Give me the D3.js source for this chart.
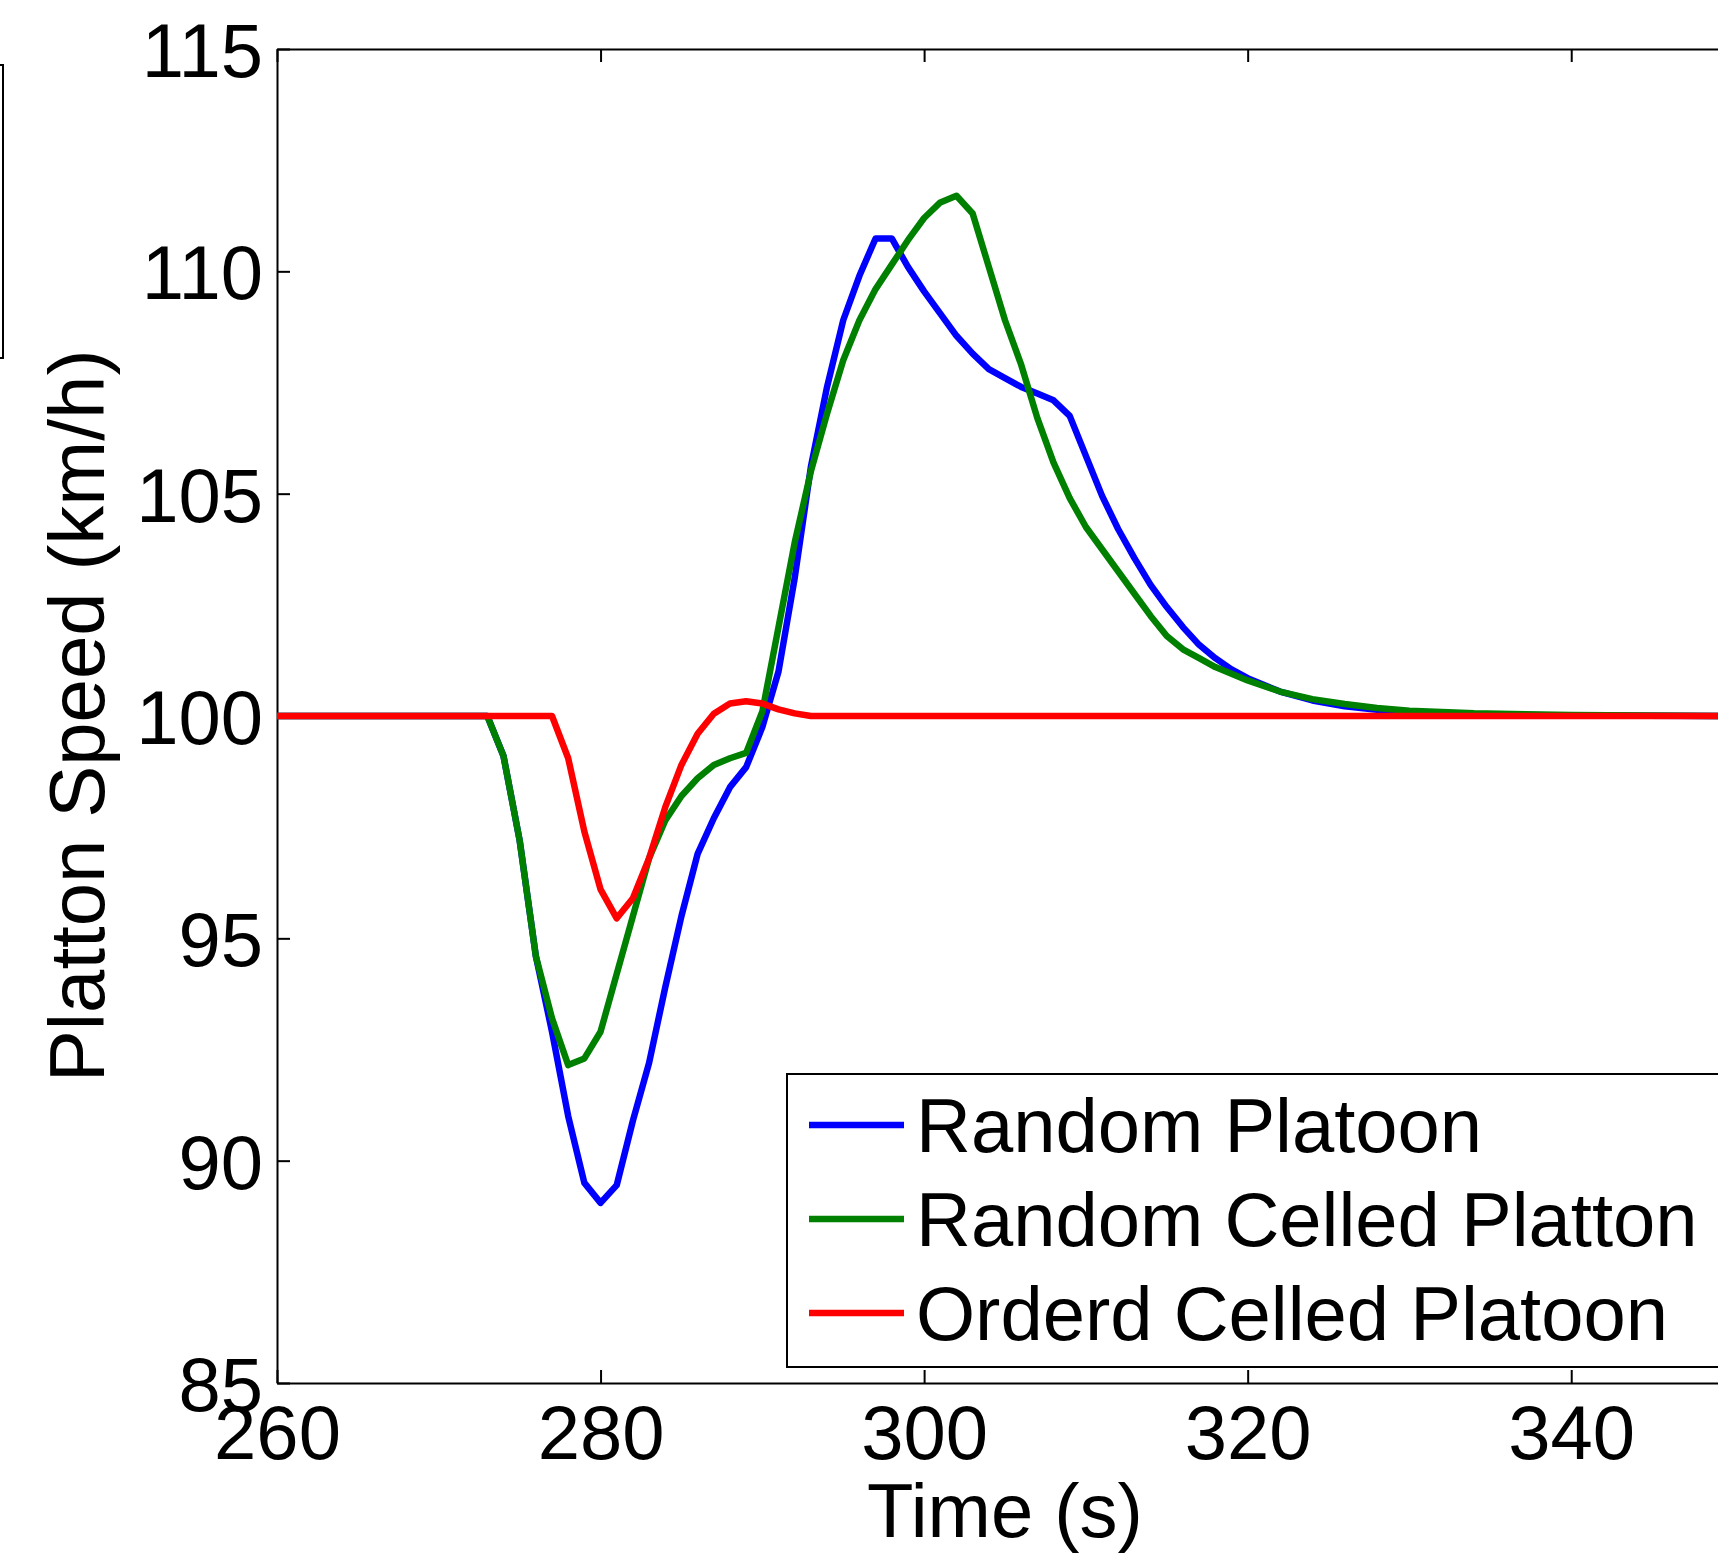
<!DOCTYPE html>
<html>
<head>
<meta charset="utf-8">
<script src="https://cdn.jsdelivr.net/npm/d3@7"></script>
<style>
  body { margin: 0; background: #ffffff; }
  text { font-family: "Liberation Sans", Arial, sans-serif; fill: #000; }
</style>
</head>
<body>
<div id="space"></div>
<script>
// Declare constants
const WIDTH = 1718;
const HEIGHT = 1555;
const FONT_SIZE = 76;
const LINE_WIDTH = 6.5;

// Plot box (the right edge runs past the picture, as in the reference)
const LEFT = 277;
const RIGHT = 1733;
const TOP = 49;
const BOTTOM = 1383;

const X_TICKS = [260, 280, 300, 320, 340];
const Y_TICKS = [85, 90, 95, 100, 105, 110, 115];

const SERIES_NAMES = ["Random Platoon", "Random Celled Platton", "Orderd Celled Platoon"];
const SERIES_COLORS = ["#0000ff", "#008000", "#ff0000"];

// Random Platoon (blue)
const randomTime = [260, 273, 274, 275, 276, 277, 278, 279, 280, 281, 282, 283, 284, 285,
  286, 287, 288, 289, 290, 291, 292, 293, 294, 295, 296, 297, 298, 299, 300, 301, 302,
  303, 304, 305, 306, 307, 308, 309, 310, 311, 312, 313, 314, 315, 316, 317, 318, 319,
  320, 322, 324, 326, 328, 330, 334, 340, 350];
const randomSpeed = [100, 100, 99.1, 97.2, 94.6, 92.9, 91.0, 89.5, 89.05, 89.45, 90.9, 92.2,
  93.9, 95.5, 96.9, 97.7, 98.4, 98.85, 99.75, 101.0, 103.1, 105.6, 107.4, 108.9, 109.9,
  110.74, 110.74, 110.1, 109.55, 109.05, 108.55, 108.15, 107.8, 107.6, 107.4, 107.25, 107.1,
  106.75, 105.85, 104.95, 104.2, 103.55, 102.95, 102.45, 102.0, 101.6, 101.3, 101.05,
  100.85, 100.55, 100.35, 100.22, 100.14, 100.09, 100.04, 100.01, 100];

// Random Celled Platton (green)
const celledTime = [260, 273, 274, 275, 276, 277, 278, 279, 280, 281, 282, 283, 284, 285,
  286, 287, 288, 289, 290, 291, 292, 293, 294, 295, 296, 297, 298, 299, 300, 301, 302,
  303, 304, 305, 306, 307, 308, 309, 310, 311, 312, 313, 314, 315, 316, 317, 318, 319,
  320, 322, 324, 326, 328, 330, 334, 340, 350];
const celledSpeed = [100, 100, 99.1, 97.2, 94.6, 93.2, 92.15, 92.3, 92.9, 94.2, 95.5, 96.8,
  97.65, 98.2, 98.6, 98.9, 99.05, 99.17, 100.1, 102.0, 103.9, 105.5, 106.8, 108.0, 108.9,
  109.6, 110.15, 110.7, 111.2, 111.55, 111.7, 111.3, 110.1, 108.9, 107.9, 106.7, 105.7,
  104.9, 104.25, 103.75, 103.25, 102.75, 102.25, 101.8, 101.5, 101.3, 101.1, 100.95,
  100.8, 100.55, 100.38, 100.27, 100.18, 100.12, 100.06, 100.02, 100];

// Orderd Celled Platoon (red)
const orderedTime = [260, 277, 278, 279, 280, 281, 282, 283, 284, 285, 286, 287, 288, 289,
  290, 291, 292, 293, 350];
const orderedSpeed = [100, 100, 99.05, 97.4, 96.1, 95.45, 95.9, 96.8, 97.95, 98.9, 99.6,
  100.05, 100.28, 100.33, 100.28, 100.15, 100.06, 100, 100];

const SERIES = [
  [randomTime, randomSpeed],
  [celledTime, celledSpeed],
  [orderedTime, orderedSpeed],
];

// Creates SVG element
var svg = d3
  .select("#space")
  .append("svg")
  .attr("width", WIDTH)
  .attr("height", HEIGHT)
  .style("display", "block")
  .style("background-color", "#ffffff");

var x = d3.scaleLinear().domain([260, 350]).range([LEFT, RIGHT]);
var y = d3.scaleLinear().domain([85, 115]).range([BOTTOM, TOP]);

// Edge of the neighbouring legend box at the far left
svg
  .append("rect")
  .attr("x", -50)
  .attr("y", 65)
  .attr("width", 53)
  .attr("height", 293)
  .attr("fill", "none")
  .attr("stroke", "#000")
  .attr("stroke-width", 2);

// Clip path for the data lines
svg
  .append("clipPath")
  .attr("id", "plotClip")
  .append("rect")
  .attr("x", LEFT)
  .attr("y", TOP)
  .attr("width", RIGHT - LEFT)
  .attr("height", BOTTOM - TOP);

// Draws the bottom axis with inward ticks
var xAxis = svg
  .append("g")
  .attr("transform", `translate(0, ${BOTTOM})`)
  .call(d3.axisBottom(x).tickValues(X_TICKS).tickSize(-13).tickSizeOuter(0).tickPadding(0));
xAxis.selectAll("text")
  .attr("y", 76)
  .attr("dy", 0)
  .style("font-size", FONT_SIZE + "px")
  .style("font-family", '"Liberation Sans", Arial, sans-serif');

// Top axis: ticks only
svg
  .append("g")
  .attr("transform", `translate(0, ${TOP})`)
  .call(d3.axisTop(x).tickValues(X_TICKS).tickSize(-13).tickSizeOuter(0).tickFormat(""));

// Left axis with inward ticks
var yAxis = svg
  .append("g")
  .attr("transform", `translate(${LEFT}, 0)`)
  .call(d3.axisLeft(y).tickValues(Y_TICKS).tickSize(-13).tickSizeOuter(0).tickPadding(14));
yAxis.selectAll("text")
  .attr("x", -14)
  .attr("dy", "0.36em")
  .style("font-size", FONT_SIZE + "px")
  .style("font-family", '"Liberation Sans", Arial, sans-serif');

// Axis line styles
svg.selectAll(".domain, .tick line")
  .attr("stroke", "#000")
  .attr("stroke-width", 2);

// Draws the three speed lines
var line = d3
  .line()
  .x((d) => x(d[0]))
  .y((d) => y(d[1]));

SERIES.forEach(function (s, i) {
  var points = s[0].map((t, j) => [t, s[1][j]]);
  svg
    .append("path")
    .datum(points)
    .attr("clip-path", "url(#plotClip)")
    .attr("fill", "none")
    .attr("stroke", SERIES_COLORS[i])
    .attr("stroke-width", LINE_WIDTH)
    .attr("stroke-linejoin", "round")
    .attr("d", line);
});

// Legend box
var legend = svg.append("g");
legend
  .append("rect")
  .attr("x", 787)
  .attr("y", 1074)
  .attr("width", 1000)
  .attr("height", 293)
  .attr("fill", "#ffffff")
  .attr("stroke", "#000")
  .attr("stroke-width", 2);

SERIES_NAMES.forEach(function (name, i) {
  var rowY = 1125 + i * 94;
  legend
    .append("line")
    .attr("x1", 809)
    .attr("x2", 904)
    .attr("y1", rowY)
    .attr("y2", rowY)
    .attr("stroke", SERIES_COLORS[i])
    .attr("stroke-width", LINE_WIDTH);
  legend
    .append("text")
    .attr("x", 916)
    .attr("y", rowY)
    .attr("dy", "0.36em")
    .style("font-size", FONT_SIZE + "px")
    .text(name);
});

// Axis titles
svg
  .append("text")
  .attr("x", (LEFT + RIGHT) / 2)
  .attr("y", 1537)
  .attr("text-anchor", "middle")
  .style("font-size", FONT_SIZE + "px")
  .text("Time (s)");

svg
  .append("text")
  .attr("transform", `translate(104, ${(TOP + BOTTOM) / 2}) rotate(-90)`)
  .attr("text-anchor", "middle")
  .style("font-size", "78px")
  .text("Platton Speed (km/h)");
</script>
</body>
</html>
